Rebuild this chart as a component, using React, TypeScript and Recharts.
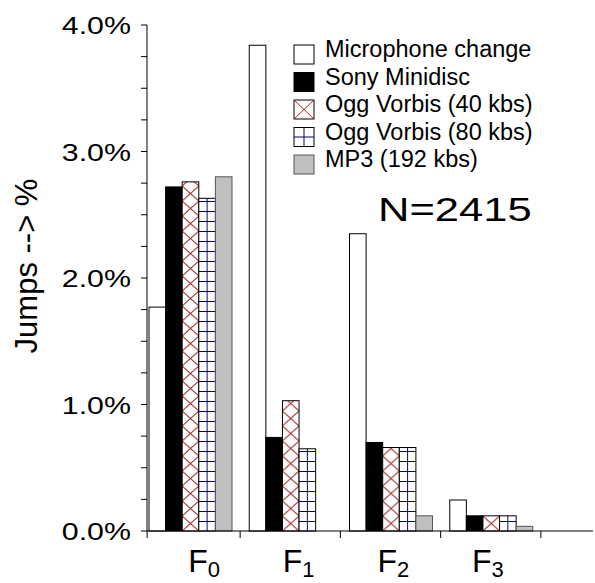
import React from 'react';
import { BarChart, Bar, XAxis, YAxis } from 'recharts';

// ---- data ----
const categories = ['F0', 'F1', 'F2', 'F3'];
const microphoneChange = [1.77, 3.84, 2.35, 0.245];
const sonyMinidisc = [2.72, 0.74, 0.7, 0.12];
const oggVorbis40 = [2.76, 1.03, 0.66, 0.12];
const oggVorbis80 = [2.63, 0.65, 0.66, 0.12];
const mp3_192 = [2.8, 0, 0.12, 0.037];
const yTicks = [0, 0.25, 0.5, 0.75, 1, 1.25, 1.5, 1.75, 2, 2.25, 2.5, 2.75, 3, 3.25, 3.5, 3.75, 4];
const legendLabels = [
  'Microphone change',
  'Sony Minidisc',
  'Ogg Vorbis (40 kbs)',
  'Ogg Vorbis (80 kbs)',
  'MP3 (192 kbs)',
];
const annotation = 'N=2415';
const yAxisLabel = 'Jumps --> %';

const data = categories.map((name, i) => ({
  name,
  mic: microphoneChange[i],
  sony: sonyMinidisc[i],
  ogg40: oggVorbis40[i],
  ogg80: oggVorbis80[i],
  mp3: mp3_192[i],
}));

// ---- style ----
const W = 595;
const H = 583;
const FONT = "'Liberation Sans', Arial, Helvetica, sans-serif";
const RED = '#a52a2a';
const NAVY = '#000080';
const GREY = '#c0c0c0';
const AXIS_Y = 531;
const BAR = 16.6;

const YTick = (props: any) => {
  const { x, y, payload } = props;
  const v = Number(payload.value);
  if (Math.abs(v - Math.round(v)) > 1e-6) return null;
  return (
    <text
      transform={`translate(${x},${y + 9}) scale(1.32,1)`}
      textAnchor="end"
      fontSize={23}
      fontFamily={FONT}
      fill="#000"
    >
      {v.toFixed(1) + '%'}
    </text>
  );
};

const XTick = (props: any) => {
  const { x, payload, index } = props;
  const s = String(payload.value);
  const lx = x - 9 - index * 5.6;
  return (
    <g>
      {index === 0 && <line x1={x - 50} x2={x - 50} y1={AXIS_Y} y2={AXIS_Y + 7} stroke="#000" />}
      <line x1={x + 43} x2={x + 43} y1={AXIS_Y} y2={AXIS_Y + 7} stroke="#000" />
      <text x={lx} y={572} fontSize={32} fontFamily={FONT} fill="#000">
        {s.charAt(0)}
        <tspan fontSize={22} dy={5}>
          {s.slice(1)}
        </tspan>
      </text>
    </g>
  );
};

const PlainBar = (fill: string, stroke: string) => (props: any) => {
  const { x, y, width, height } = props;
  if (!height || height < 0.3) return null;
  return <rect x={x} y={y} width={width} height={height} fill={fill} stroke={stroke} strokeWidth={1} />;
};

const CrossBar = (props: any) => {
  const { x, y, width, height, index } = props;
  if (!height || height < 0.3) return null;
  const id = `cross-${index}`;
  const th = 15;
  return (
    <g>
      <defs>
        <pattern id={id} patternUnits="userSpaceOnUse" x={x} y={y + height} width={width} height={th}>
          <rect x={0} y={0} width={width} height={th} fill="#fff" />
          <line x1={0} y1={0} x2={width} y2={th} stroke={RED} strokeWidth={1} />
          <line x1={width} y1={0} x2={0} y2={th} stroke={RED} strokeWidth={1} />
        </pattern>
      </defs>
      <rect x={x} y={y} width={width} height={height} fill={`url(#${id})`} stroke="#000" strokeWidth={1} />
    </g>
  );
};

const GridBar = (props: any) => {
  const { x, y, width, height, index } = props;
  if (!height || height < 0.3) return null;
  const id = `grid-${index}`;
  const th = 10;
  return (
    <g>
      <defs>
        <pattern id={id} patternUnits="userSpaceOnUse" x={x} y={y + height} width={width} height={th}>
          <rect x={0} y={0} width={width} height={th} fill="#fff" />
          <line x1={0} y1={0.5} x2={width} y2={0.5} stroke={NAVY} strokeWidth={1} />
          <line x1={width / 2} y1={0} x2={width / 2} y2={th} stroke={NAVY} strokeWidth={1} />
        </pattern>
      </defs>
      <rect x={x} y={y} width={width} height={height} fill={`url(#${id})`} stroke="#000" strokeWidth={1} />
    </g>
  );
};

const Legend = () => {
  const sw = 20;
  const sh = 19;
  const sx = 294;
  return (
    <svg
      width={W}
      height={H}
      style={{ position: 'absolute', left: 0, top: 0, pointerEvents: 'none' }}
    >
      {legendLabels.map((label, i) => {
        const base = 57 + i * 27.5;
        const top = base - 12;
        let swatch: React.ReactNode = null;
        if (i === 0) swatch = <rect x={sx} y={top} width={sw} height={sh} fill="#fff" stroke="#000" />;
        if (i === 1) swatch = <rect x={sx} y={top} width={sw} height={sh} fill="#000" stroke="#000" />;
        if (i === 2)
          swatch = (
            <g>
              <rect x={sx} y={top} width={sw} height={sh} fill="#fff" stroke="#000" />
              <line x1={sx} y1={top} x2={sx + sw} y2={top + sh} stroke={RED} />
              <line x1={sx + sw} y1={top} x2={sx} y2={top + sh} stroke={RED} />
            </g>
          );
        if (i === 3)
          swatch = (
            <g>
              <rect x={sx} y={top} width={sw} height={sh} fill="#fff" stroke="#000" />
              <line x1={sx + sw / 2} y1={top} x2={sx + sw / 2} y2={top + sh} stroke={NAVY} />
              <line x1={sx} y1={top + sh / 2} x2={sx + sw} y2={top + sh / 2} stroke={NAVY} />
            </g>
          );
        if (i === 4) swatch = <rect x={sx} y={top} width={sw} height={sh} fill={GREY} stroke="#555" />;
        return (
          <g key={label}>
            {swatch}
            <text x={325} y={base} fontSize={23.5} fontFamily={FONT} fill="#000">
              {label}
            </text>
          </g>
        );
      })}
      <text
        transform={`translate(378,221) scale(1.32,1)`}
        fontSize={33}
        fontFamily={FONT}
        fill="#000"
      >
        {annotation}
      </text>
      <text
        transform={`translate(36.5,266) rotate(-90)`}
        textAnchor="middle"
        fontSize={31}
        fontFamily={FONT}
        fill="#000"
      >
        {yAxisLabel}
      </text>
    </svg>
  );
};

export default function App() {
  return (
    <div style={{ position: 'absolute', left: 0, top: 0, width: W, height: H, background: '#fff' }}>
      <BarChart
        width={W}
        height={H}
        data={data}
        margin={{ top: 25, right: 2, bottom: 0, left: 0 }}
        barGap={0}
      >
        <XAxis
          dataKey="name"
          type="category"
          height={52}
          padding={{ left: 0, right: 45 }}
          axisLine={{ stroke: '#000', strokeWidth: 1 }}
          tickLine={false}
          tick={<XTick />}
          interval={0}
        />
        <YAxis
          width={147}
          type="number"
          domain={[0, 4]}
          ticks={yTicks}
          interval={0}
          tickSize={6}
          tickMargin={10}
          axisLine={{ stroke: '#000', strokeWidth: 1 }}
          tickLine={{ stroke: '#000', strokeWidth: 1 }}
          tick={<YTick />}
        />
        <Bar dataKey="mic" barSize={BAR} isAnimationActive={false} shape={PlainBar('#fff', '#000')} />
        <Bar dataKey="sony" barSize={BAR} isAnimationActive={false} shape={PlainBar('#000', '#000')} />
        <Bar dataKey="ogg40" barSize={BAR} isAnimationActive={false} shape={CrossBar} />
        <Bar dataKey="ogg80" barSize={BAR} isAnimationActive={false} shape={GridBar} />
        <Bar dataKey="mp3" barSize={BAR} isAnimationActive={false} shape={PlainBar(GREY, '#555')} />
        <Bar dataKey="spacer" barSize={13} isAnimationActive={false} fill="none" legendType="none" />
      </BarChart>
      <Legend />
    </div>
  );
}
